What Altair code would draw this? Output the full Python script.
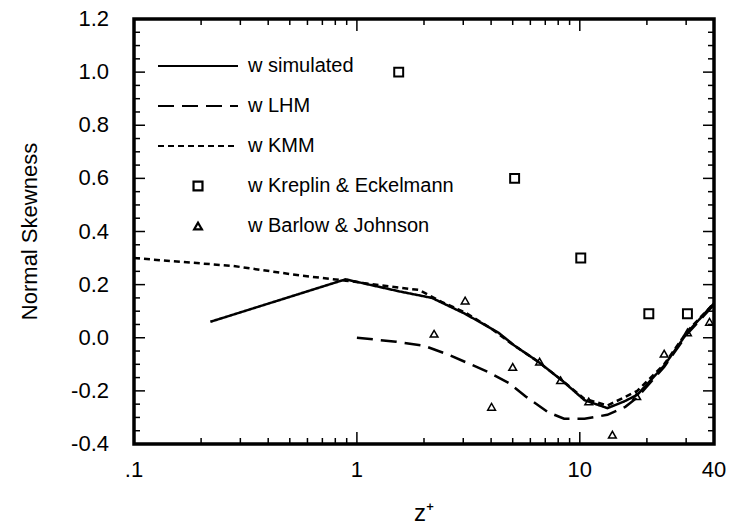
import altair as alt
import pandas as pd

FONT = "Liberation Sans"

# Series names (legend labels)
S_SIM = "w simulated"
S_LHM = "w LHM"
S_KMM = "w KMM"
S_KE = "w Kreplin & Eckelmann"
S_BJ = "w Barlow & Johnson"
series_domain = [S_SIM, S_LHM, S_KMM, S_KE, S_BJ]

# w simulated (solid)
sim_x = [0.22, 0.89, 1.54, 2.17, 3.06, 4.3, 5.1, 6.5, 8.3, 10.5, 13.3, 15.8, 18.1, 23.9, 30.4, 40]
sim_y = [0.06, 0.22, 0.175, 0.15, 0.09, 0.02, -0.03, -0.09, -0.16, -0.235, -0.265, -0.24, -0.215, -0.105, 0.02, 0.13]

# w LHM (long dashes)
lhm_x = [1.0, 1.5, 2.0, 2.6, 3.9, 4.8, 5.7, 7.2, 8.5, 10.5, 13.3, 16.0, 18.1, 23.9, 30.4, 40]
lhm_y = [0.0, -0.015, -0.03, -0.065, -0.13, -0.17, -0.22, -0.28, -0.305, -0.305, -0.29, -0.26, -0.225, -0.11, 0.015, 0.125]

# w KMM (short dashes)
kmm_x = [0.1, 0.28, 0.55, 0.89, 1.5, 1.9, 2.4, 3.06, 4.0, 4.8, 6.5, 8.3, 10.5, 13.3, 15.8, 18.1, 23.9, 30.4, 40]
kmm_y = [0.30, 0.27, 0.235, 0.215, 0.19, 0.18, 0.135, 0.095, 0.035, -0.015, -0.09, -0.16, -0.23, -0.255, -0.225, -0.2, -0.1, 0.025, 0.13]

# w Kreplin & Eckelmann (squares)
ke_x = [1.54, 5.1, 10.1, 20.4, 30.4]
ke_y = [1.0, 0.6, 0.3, 0.09, 0.09]

# w Barlow & Johnson (triangles)
bj_x = [2.22, 3.06, 4.02, 5.0, 6.6, 8.2, 10.97, 14.0, 18.0, 23.9, 30.4, 38.2]
bj_y = [0.015, 0.14, -0.26, -0.11, -0.09, -0.16, -0.24, -0.365, -0.22, -0.06, 0.02, 0.06]

# Axis tick values / labels
x_label_vals = [0.1, 1, 10, 40]
x_label_text = [".1", "1", "10", "40"]
x_major_ticks = [1, 10]
x_minor_ticks = [0.2, 0.3, 0.4, 0.5, 0.6, 0.7, 0.8, 0.9,
                 2, 3, 4, 5, 6, 7, 8, 9, 20, 30]
y_label_vals = [-0.4, -0.2, 0.0, 0.2, 0.4, 0.6, 0.8, 1.0, 1.2]
y_label_text = ["-0.4", "-0.2", "0.0", "0.2", "0.4", "0.6", "0.8", "1.0", "1.2"]
y_major_ticks = [-0.2, 0.0, 0.2, 0.4, 0.6, 0.8, 1.0]
y_minor_ticks = [-0.35, -0.3, -0.25, -0.15, -0.1, -0.05,
                 0.05, 0.1, 0.15, 0.25, 0.3, 0.35, 0.45, 0.5,
                 0.55, 0.65, 0.7, 0.75, 0.85, 0.9, 0.95,
                 1.05, 1.1, 1.15]

X_TITLE = "z\u207a"
Y_TITLE = "Normal Skewness"


def long_df(pairs):
    rows = []
    for name, xs, ys in pairs:
        for xv, yv in zip(xs, ys):
            rows.append({"z": xv, "s": yv, "series": name})
    return pd.DataFrame(rows)


lines_df = long_df([(S_SIM, sim_x, sim_y), (S_LHM, lhm_x, lhm_y), (S_KMM, kmm_x, kmm_y)])
ke_df = long_df([(S_KE, ke_x, ke_y)])
bj_df = long_df([(S_BJ, bj_x, bj_y)])

xmaj_df = pd.DataFrame({"z": x_major_ticks})
xmin_df = pd.DataFrame({"z": x_minor_ticks})
ymaj_df = pd.DataFrame({"s": y_major_ticks})
ymin_df = pd.DataFrame({"s": y_minor_ticks})
xlab_df = pd.DataFrame({"z": x_label_vals, "t": x_label_text})
ylab_df = pd.DataFrame({"s": y_label_vals, "t": y_label_text})

xscale = alt.Scale(type="log", domain=[0.1, 40], nice=False)
yscale = alt.Scale(domain=[-0.4, 1.2], nice=False, zero=False)

LEG_LINE = "M-8,0H8"  # legend line symbol (80 px long at size 100)
dash_scale = alt.Scale(domain=series_domain, range=[[1, 0], [16, 8], [6, 4], [1, 0], [1, 0]])
shape_scale = alt.Scale(domain=series_domain, range=[LEG_LINE, LEG_LINE, LEG_LINE, "square", "triangle-up"])
size_scale = alt.Scale(type="ordinal", domain=series_domain, range=[100, 100, 100, 80, 60])

legend = alt.Legend(
    title=None, orient="none", legendX=54, legendY=37, padding=0,
    labelFont=FONT, labelFontSize=20, labelColor="black", labelOffset=40,
    rowPadding=20, symbolStrokeWidth=2.2, symbolStrokeColor="black",
    symbolFillColor="transparent", symbolOpacity=1, labelLimit=400,
)


def X():
    return alt.X("z:Q", scale=xscale, axis=None)


def Y():
    return alt.Y("s:Q", scale=yscale, axis=None)


lines = alt.Chart(lines_df).mark_line(color="black", strokeWidth=2.5).encode(
    x=X(), y=Y(),
    strokeDash=alt.StrokeDash("series:N", scale=dash_scale, legend=legend),
)

ke_pts = alt.Chart(ke_df).mark_point(
    filled=False, color="black", strokeWidth=2, opacity=1
).encode(
    x=X(), y=Y(),
    shape=alt.Shape("series:N", scale=shape_scale, legend=legend),
    size=alt.Size("series:N", scale=size_scale, legend=legend),
)

bj_pts = alt.Chart(bj_df).mark_point(
    filled=False, color="black", strokeWidth=1.5, opacity=1
).encode(
    x=X(), y=Y(),
    shape=alt.Shape("series:N", scale=shape_scale, legend=legend),
    size=alt.Size("series:N", scale=size_scale, legend=legend),
)


# inward tick marks on all four sides of the frame (lengths in px)
def x_ticks(df, length):
    base = alt.Chart(df).mark_rule(color="black", strokeWidth=1.5)
    bottom = base.encode(x=X(), y=alt.value({"expr": "height"}),
                         y2=alt.value({"expr": f"height - {length}"}))
    top = base.encode(x=X(), y=alt.value(0), y2=alt.value(length))
    return [bottom, top]


def y_ticks(df, length):
    base = alt.Chart(df).mark_rule(color="black", strokeWidth=1.5)
    left = base.encode(y=Y(), x=alt.value(0), x2=alt.value(length))
    right = base.encode(y=Y(), x=alt.value({"expr": "width"}),
                        x2=alt.value({"expr": f"width - {length}"}))
    return [left, right]


tick_layers = (x_ticks(xmin_df, 6) + x_ticks(xmaj_df, 12)
               + y_ticks(ymin_df, 6) + y_ticks(ymaj_df, 11))

# tick labels (placed through the same scales)
x_labels = alt.Chart(xlab_df).mark_text(
    font=FONT, fontSize=22, color="black", align="center", baseline="top"
).encode(x=X(), y=alt.value({"expr": "height + 16"}), text="t:N")

y_labels = alt.Chart(ylab_df).mark_text(
    font=FONT, fontSize=22, color="black", align="right", baseline="middle"
).encode(y=Y(), x=alt.value(-25), text="t:N")

# axis titles
x_title = alt.Chart(pd.DataFrame({"t": [X_TITLE]})).mark_text(
    font=FONT, fontSize=24, color="black", align="center", baseline="alphabetic"
).encode(x=alt.value({"expr": "width / 2"}), y=alt.value({"expr": "height + 77"}), text="t:N")

y_title = alt.Chart(pd.DataFrame({"t": [Y_TITLE]})).mark_text(
    font=FONT, fontSize=22, color="black", align="center", baseline="middle", angle=270
).encode(x=alt.value(-104), y=alt.value({"expr": "height / 2"}), text="t:N")

chart = (
    alt.layer(lines, *tick_layers, ke_pts, bj_pts, x_labels, y_labels, x_title, y_title)
    .properties(
        width=732, height=526,
        autosize=alt.AutoSizeParams(type="fit", contains="padding"),
        padding={"left": 19, "top": 8, "right": 5, "bottom": 0},
        background="white",
    )
    .configure_view(stroke="black", strokeWidth=3.5)
)

chart.save("out.html", embed_options={"renderer": "svg", "actions": False})
